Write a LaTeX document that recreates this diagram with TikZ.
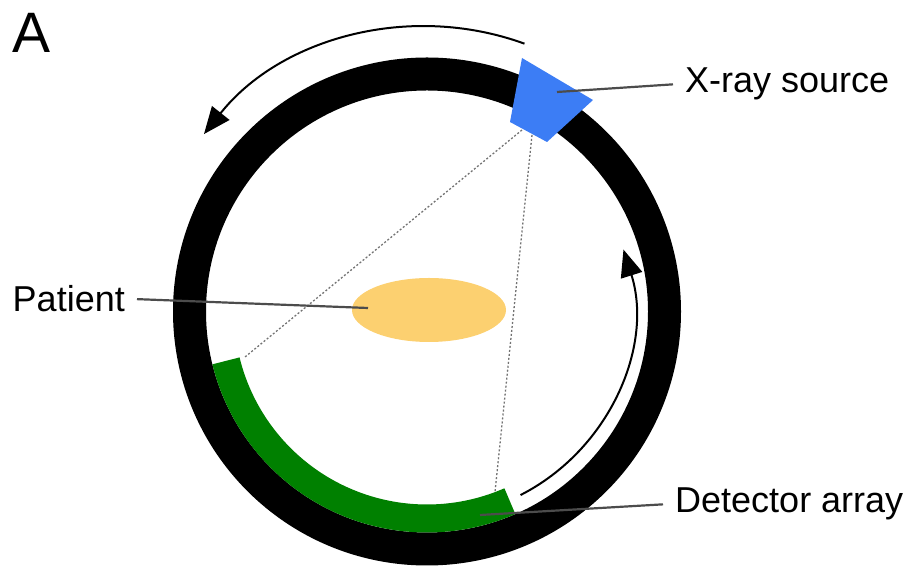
\documentclass[tikz,border=0pt]{standalone}
\usepackage{fontspec}
\setmainfont{Liberation Sans}
\usetikzlibrary{calc,arrows.meta,positioning,shapes.geometric}
\definecolor{srcblue}{RGB}{60,125,245}
\definecolor{detgreen}{RGB}{0,128,0}
\definecolor{patorange}{RGB}{252,208,112}

\begin{document}
\begin{tikzpicture}[x=1pt, y=1pt,
    line/.style={line width=2pt, -{Triangle[length=27pt, width=22pt]}},
    lead/.style={line width=2.2pt, color=black!70},
    ray/.style={line width=1.3pt, color=black!55, dash pattern=on 2pt off 2pt},
    lbl/.style={font=\fontsize{36}{40}\selectfont, inner xsep=12pt, inner ysep=0pt}]
        \useasboundingbox (0, 0) rectangle (911, 570);
        \coordinate (C) at (427, 258.5);
        \coordinate (S1) at (522, 512);
        \coordinate (S2) at (593, 470);
        \coordinate (S3) at (547, 428);
        \coordinate (S4) at (510, 448);
        \coordinate (F1) at (522, 440);
        \coordinate (F2) at (532, 435);
        \coordinate (D1) at (245, 213);
        \coordinate (D2) at (495, 78);
        \coordinate (Ps) at (557, 478);
        \coordinate (Pp) at (368, 262);
        \coordinate (Pd) at (480, 55);

        \draw[line width=33pt] (C) circle (237.5);
        \draw[detgreen, line width=28pt] ($(C) + (193.8:207)$) arc (193.8:293.6:207);
        \fill[srcblue] (S1) -- (S2) -- (S3) -- (S4) -- cycle;

        \node[ellipse, fill=patorange, minimum width=154pt, minimum height=64pt, inner sep=0pt] (patient) at (429, 260) {};

        \draw[ray] (F1) -- (D1);
        \draw[ray] (F2) -- (D2);

        \draw[line] ($(C) + (70:285)$) arc (70:141.5:285);
        \draw[line] ($(C) + (-63:206)$) arc (-63:17.5:206);

        \node[lbl, anchor=base west] (source) at (673, 477) {X-ray source};
        \node[lbl, anchor=base east] (pat) at (137, 258) {Patient};
        \node[lbl, anchor=base west] (detector) at (663, 57) {Detector array};
        \node[font=\fontsize{57}{60}\selectfont, inner sep=0pt, anchor=base west] (panel) at (12, 517) {A};

        \draw[lead] (Ps) -- (source.west);
        \draw[lead] (Pp) -- (pat.east);
        \draw[lead] (Pd) -- (detector.west);
\end{tikzpicture}
\end{document}
